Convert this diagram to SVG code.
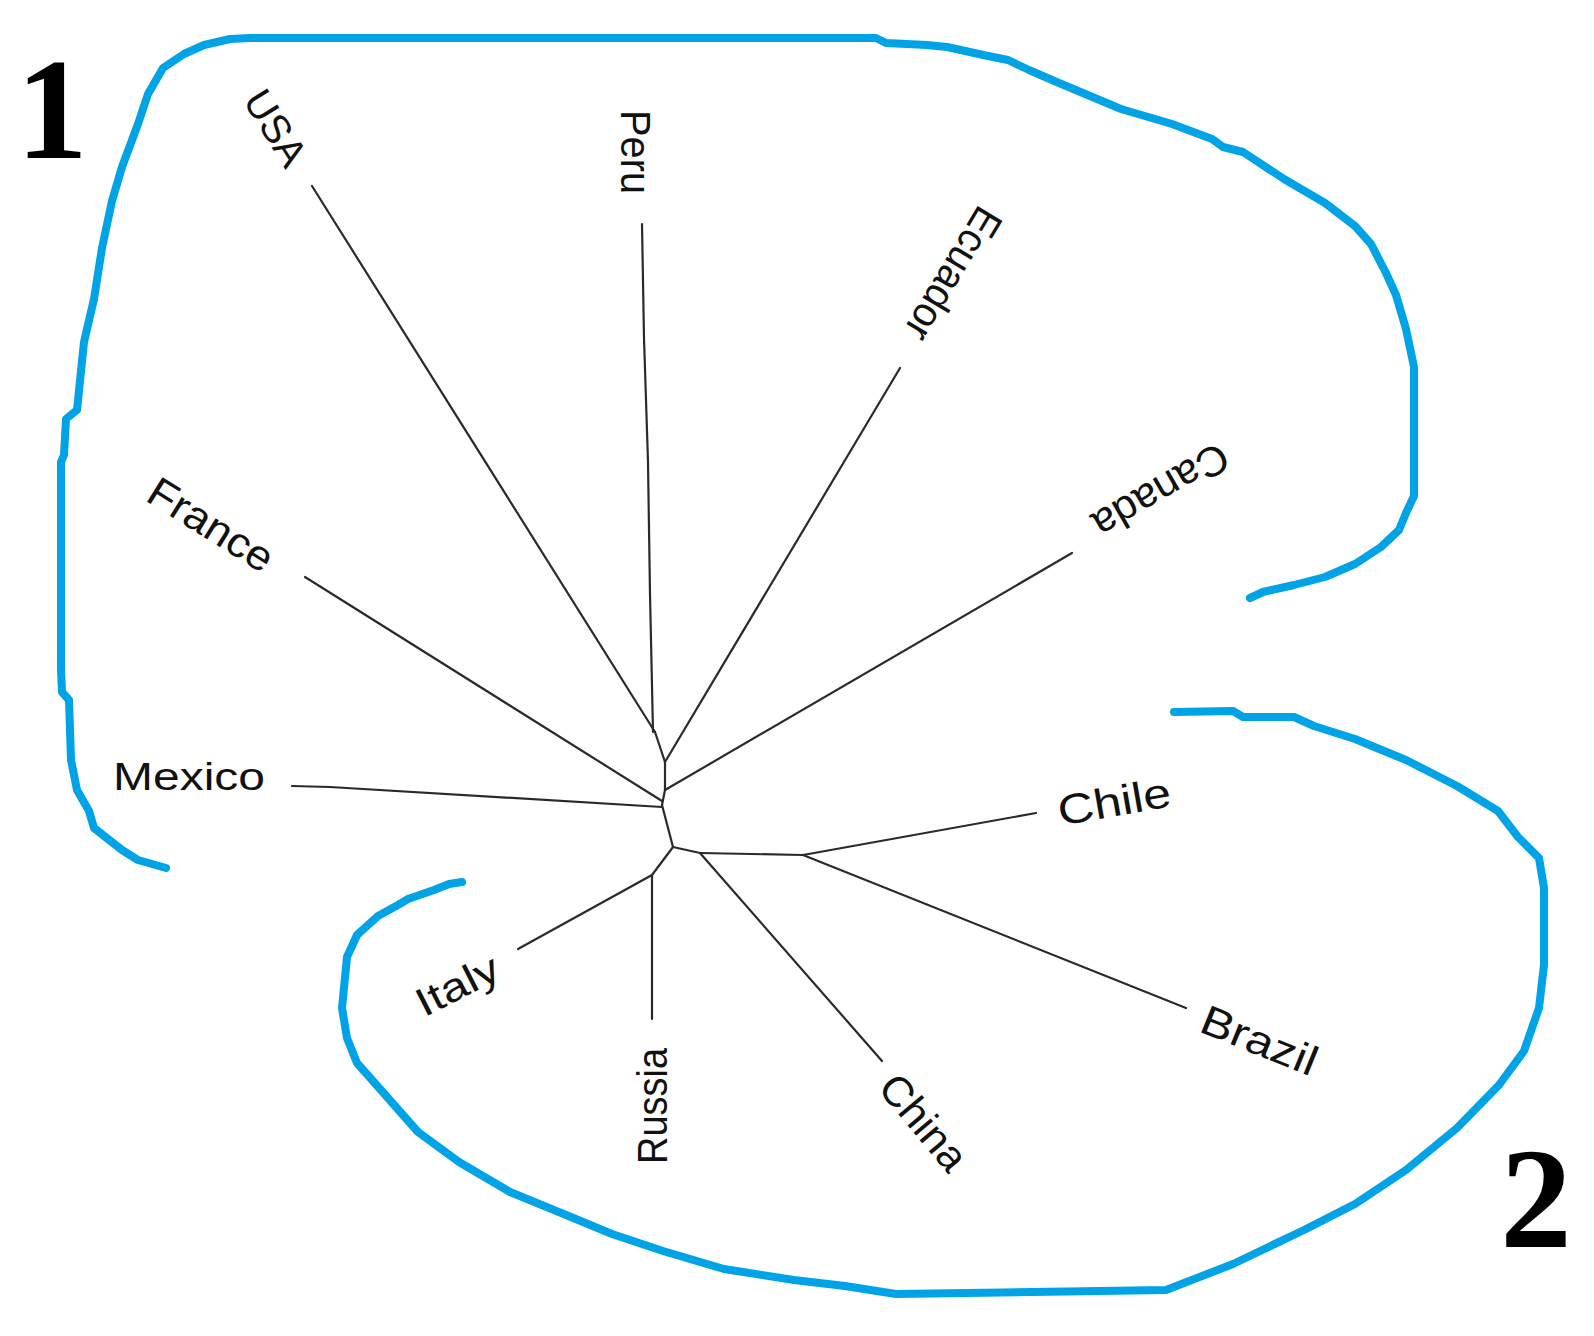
<svg xmlns="http://www.w3.org/2000/svg" width="1594" height="1336" viewBox="0 0 1594 1336">
<style>
.lbl{font-family:"Liberation Sans",Arial,sans-serif;font-size:42px;fill:#111;}
.num{font-family:"Liberation Serif","Times New Roman",serif;font-weight:bold;font-size:143px;fill:#000;text-anchor:middle;}
.br{fill:none;stroke:#2a2a2a;stroke-width:2.2;stroke-linecap:round;stroke-linejoin:round;}
.blue{fill:none;stroke:#00A3E6;stroke-width:8;stroke-linecap:round;stroke-linejoin:round;}
</style>
<rect width="1594" height="1336" fill="#fff"/>
<g id="groups">
<polyline class="blue" points="166,868 138,860 122,850 94,828 89,811 77,790 71,760 69,700 62,692 61,670 61,462 64,455 66,419 77,410 84,342 94,299 102,248 112,201 122,167 138,124 148,94 163,68 184,54 204,45 230,39 250,38 876,38 886,43 927,45 947,47 988,56 1008,60 1029,70 1059,83 1121,109 1172,124 1212,139 1223,147 1243,152 1284,179 1325,203 1355,226 1371,244 1386,273 1396,295 1406,329 1414,367 1414,496 1406,513 1399,530 1381,547 1355,564 1325,577 1294,585 1263,592 1250,598"/>
<polyline class="blue" points="462,882 449,884 434,890 408,899 398,905 378,916 357,935 347,957 342,1008 347,1038 357,1063 388,1098 418,1132 459,1162 510,1192 571,1217 612,1234 663,1251 724,1269 794,1280 845,1286 896,1294 1166,1290 1233,1264 1304,1230 1355,1204 1406,1170 1457,1128 1499,1085 1524,1051 1539,1008 1544,965 1544,888 1539,858 1518,837 1498,811 1457,786 1406,760 1355,739 1314,726 1294,717 1243,717 1233,711 1174,712"/>
<text class="num" x="52" y="158">1</text>
<text class="num" x="1536" y="1247">2</text>
</g>
<g id="connectors">
<line class="br" x1="312" y1="186" x2="655" y2="732"/>
<polyline class="br" points="642,224 644,338 648,462 650,594 653,732"/>
<line class="br" x1="655" y1="732" x2="665" y2="762"/>
<line class="br" x1="900" y1="368" x2="665" y2="762"/>
<line class="br" x1="665" y1="762" x2="665" y2="790"/>
<line class="br" x1="1072" y1="553" x2="665" y2="790"/>
<line class="br" x1="665" y1="790" x2="662" y2="805"/>
<line class="br" x1="305" y1="577" x2="662" y2="801"/>
<polyline class="br" points="292,786 330,787 662,807"/>
<line class="br" x1="662" y1="805" x2="673" y2="847"/>
<line class="br" x1="673" y1="847" x2="700" y2="853"/>
<line class="br" x1="700" y1="853" x2="803" y2="855"/>
<line class="br" x1="803" y1="855" x2="1036" y2="813"/>
<line class="br" x1="803" y1="855" x2="1186" y2="1008"/>
<line class="br" x1="700" y1="853" x2="882" y2="1061"/>
<line class="br" x1="673" y1="847" x2="652" y2="875"/>
<line class="br" x1="652" y1="875" x2="518" y2="949"/>
<line class="br" x1="652" y1="875" x2="652" y2="1019"/>
</g>
<g id="node-usa"><text class="lbl" style="font-size:40px" transform="translate(254,93) rotate(58)" y="14" textLength="82" lengthAdjust="spacingAndGlyphs">USA</text></g>
<g id="node-peru"><text class="lbl" transform="translate(636,110) rotate(90)" y="15" textLength="84" lengthAdjust="spacingAndGlyphs">Peru</text></g>
<g id="node-ecuador"><text class="lbl" transform="translate(992,211) rotate(121)" y="15" textLength="148" lengthAdjust="spacingAndGlyphs">Ecuador</text></g>
<g id="node-canada"><text class="lbl" transform="translate(1226,454) rotate(150)" y="15" textLength="150" lengthAdjust="spacingAndGlyphs">Canada</text></g>
<g id="node-france"><text class="lbl" transform="translate(152,487) rotate(32)" y="15" textLength="140" lengthAdjust="spacingAndGlyphs">France</text></g>
<g id="node-mexico"><text class="lbl" style="font-size:38px" x="113" y="790" textLength="152" lengthAdjust="spacingAndGlyphs">Mexico</text></g>
<g id="node-chile"><text class="lbl" transform="translate(1058,811) rotate(-10)" y="15" textLength="114" lengthAdjust="spacingAndGlyphs">Chile</text></g>
<g id="node-brazil"><text class="lbl" transform="translate(1203,1017) rotate(22)" y="15" textLength="122" lengthAdjust="spacingAndGlyphs">Brazil</text></g>
<g id="node-china"><text class="lbl" transform="translate(888,1079) rotate(50)" y="15" textLength="112" lengthAdjust="spacingAndGlyphs">China</text></g>
<g id="node-italy"><text class="lbl" style="font-size:40px" transform="translate(418,1005) rotate(-27)" y="14" textLength="88" lengthAdjust="spacingAndGlyphs">Italy</text></g>
<g id="node-russia"><text class="lbl" transform="translate(652,1164) rotate(-90)" y="15" textLength="116" lengthAdjust="spacingAndGlyphs">Russia</text></g>
</svg>
